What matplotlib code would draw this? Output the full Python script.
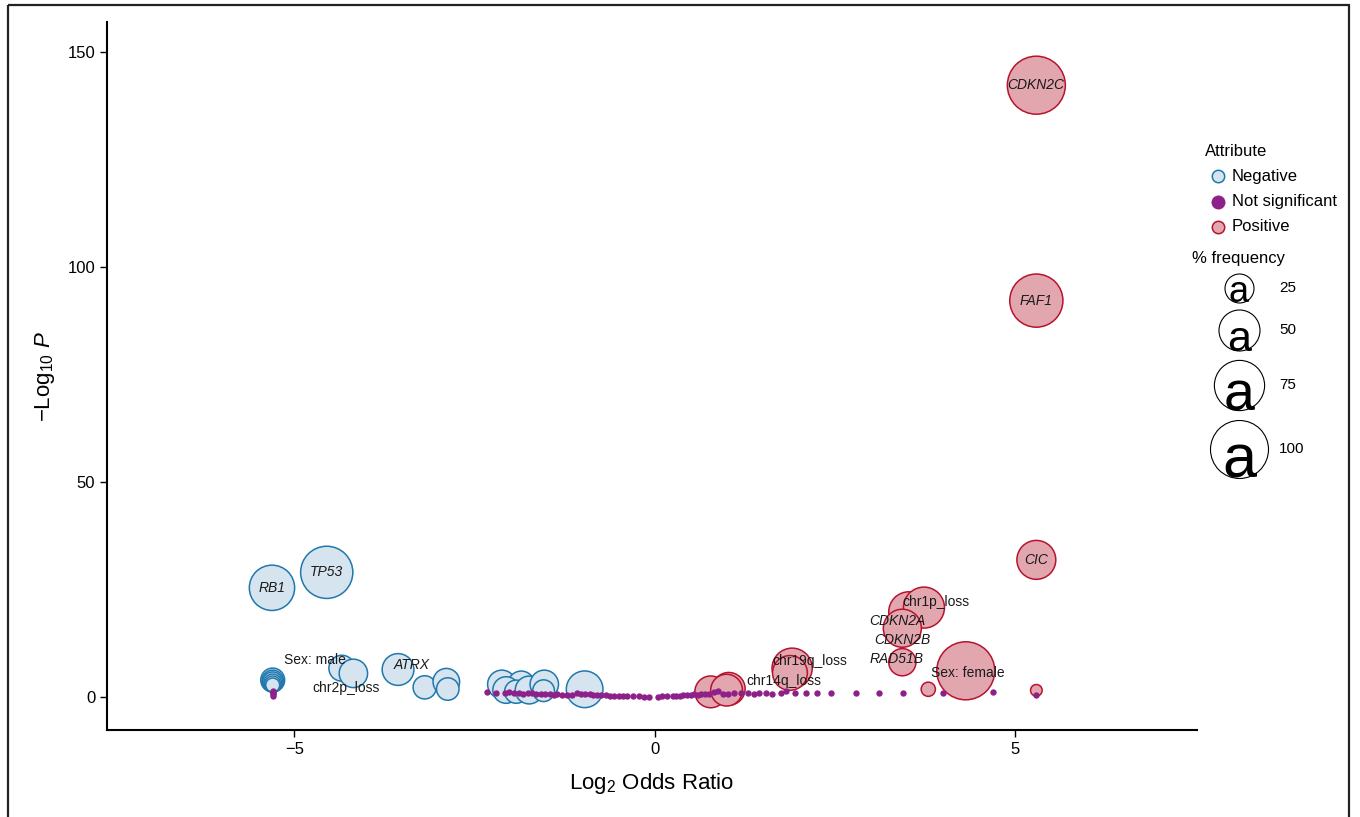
import matplotlib
matplotlib.use('Agg')
import matplotlib.pyplot as plt
from matplotlib.patches import Rectangle
import numpy as np

plt.rcParams['font.family'] = ['Liberation Sans', 'DejaVu Sans']
plt.rcParams['mathtext.fontset'] = 'custom'
plt.rcParams['mathtext.rm'] = 'Liberation Sans'
plt.rcParams['mathtext.it'] = 'Liberation Sans:italic'
plt.rcParams['axes.unicode_minus'] = True

# ---------------- data ----------------
neg_x = [-5.31, -4.55, -5.30, -5.30, -5.30, -5.30, -5.30, -5.30,
         -4.34, -4.18, -3.56, -3.19, -2.89, -2.87,
         -2.12, -1.85, -2.06, -1.92, -1.74, -1.53, -1.54, -0.97]
neg_y = [25.4, 29.0, 3.95, 3.72, 3.49, 3.26, 3.02, 2.79,
         6.7, 5.5, 6.4, 2.25, 3.56, 1.86,
         2.95, 2.95, 1.63, 1.24, 1.63, 2.95, 1.47, 1.8]
neg_freq = [61, 81, 17, 14, 12, 9.6, 7.6, 5.8,
            20, 24, 30, 16, 21, 15,
            24, 21, 21, 16, 23, 24, 14, 40]

pos_x = [5.30, 5.30, 5.30, 3.53, 3.74, 3.44, 3.44, 4.32, 3.80, 5.30,
         1.91, 1.88, 0.78, 1.03, 1.00]
pos_y = [142.3, 92.2, 31.9, 19.8, 20.8, 16.0, 8.1, 6.1, 1.8, 1.56,
         6.7, 5.6, 1.2, 1.9, 1.6]
pos_freq = [100, 84, 45, 48, 50, 43, 22, 100, 6, 4,
            48, 36, 30, 32, 30]

ns_x = [-5.30, -5.30, -5.30, -5.30, -5.30,
        -2.33, -2.20, -2.08, -2.02, -1.95, -1.88, -1.82, -1.75, -1.70, -1.64,
        -1.58, -1.52, -1.45, -1.40, -1.35, -1.28, -1.22, -1.15, -1.08, -1.02,
        -0.96, -0.90, -0.85, -0.80, -0.74, -0.68, -0.62, -0.56, -0.50, -0.44,
        -0.38, -0.30, -0.22, -0.15, -0.08,
        0.05, 0.10, 0.18, 0.25, 0.30, 0.35, 0.40, 0.45, 0.50, 0.55,
        0.60, 0.65, 0.70, 0.75, 0.82, 0.88, 0.95, 1.02, 1.10, 1.20,
        1.30, 1.38, 1.45, 1.55, 1.63, 1.75, 1.82, 1.95, 2.10, 2.25,
        2.45, 2.80, 3.12, 3.45, 4.00, 4.70, 5.30]
ns_y = [0.3, 0.6, 0.9, 1.2, 1.5,
        1.1, 0.9, 0.85, 1.2, 1.0, 0.9, 0.8, 0.85, 0.9, 0.8,
        0.7, 0.75, 0.6, 0.55, 0.7, 0.5, 0.4, 0.45, 0.9, 0.7,
        0.6, 0.65, 0.5, 0.55, 0.45, 0.4, 0.35, 0.3, 0.35, 0.25,
        0.3, 0.15, 0.2, 0.1, 0.05,
        0.1, 0.15, 0.2, 0.3, 0.25, 0.35, 0.4, 0.5, 0.45, 0.6,
        0.5, 0.7, 0.65, 0.8, 1.2, 1.3, 0.7, 0.8, 0.9, 0.85,
        0.9, 0.8, 0.9, 1.0, 0.6, 0.9, 1.3, 1.0, 0.95, 0.9,
        0.9, 0.9, 0.9, 0.9, 1.0, 1.2, 0.4]

label_text = ['RB1', 'TP53', 'Sex: male', 'chr2p_loss', 'ATRX',
              'CDKN2C', 'FAF1', 'CIC', 'chr1p_loss', 'CDKN2A', 'CDKN2B',
              'RAD51B', 'Sex: female', 'chr19q_loss', 'chr14q_loss']
label_italic = [True, True, False, False, True,
                True, True, True, False, True, True,
                True, False, False, False]
label_x = [-5.31, -4.56, -4.71, -4.285, -3.37,
           5.29, 5.30, 5.30, 3.91, 3.375, 3.44,
           3.36, 4.35, 2.15, 1.79]
label_y = [25.3, 29.1, 8.6, 2.16, 7.44,
           142.3, 92.2, 31.9, 22.2, 17.7, 13.3,
           8.84, 5.5, 8.37, 3.72]

size_levels = [25, 50, 75, 100]
x_ticks = [-5, 0, 5]
y_ticks = [0, 50, 100, 150]

# ---------------- style ----------------
NEG_FILL, NEG_EDGE = '#D5E4EE', '#1F78AE'
POS_FILL, POS_EDGE = '#E2A6AF', '#B8132E'
NS_COL = '#8E2189'

def size_of(freq):
    return 17.44 * np.asarray(freq, dtype=float)

W, H = 1360, 817
fig = plt.figure(figsize=(W / 100, H / 100), dpi=100)
ax = fig.add_axes([107 / W, 1 - 730 / H, 1090 / W, 708 / H])

ax.scatter(neg_x, neg_y, s=size_of(neg_freq), facecolor=NEG_FILL,
           edgecolor=NEG_EDGE, linewidths=1.1, zorder=2)
ax.scatter(pos_x, pos_y, s=size_of(pos_freq), facecolor=POS_FILL,
           edgecolor=POS_EDGE, linewidths=1.1, zorder=2)
ax.scatter(ns_x, ns_y, s=21, color=NS_COL, linewidths=0, zorder=3)

for t, it, lx, ly in zip(label_text, label_italic, label_x, label_y):
    ax.text(lx, ly, t, ha='center', va='center', fontsize=10,
            style='italic' if it else 'normal', color='#1a1a1a', zorder=4)

ax.set_xlim(-7.6, 7.53)
ax.set_ylim(-7.67, 157)
ax.set_xticks(x_ticks)
ax.set_yticks(y_ticks)
for s in ['top', 'right']:
    ax.spines[s].set_visible(False)
for s in ['left', 'bottom']:
    ax.spines[s].set_linewidth(1.5)
ax.tick_params(length=5, width=1, labelsize=12, colors='black')
ax.set_xlabel('Log$_2$ Odds Ratio', fontsize=16)
ax.set_ylabel('\u2212Log$_{10}$ $P$', fontsize=16)
ax.xaxis.set_label_coords(0.5, -0.058)
ax.yaxis.set_label_coords(-0.046, 0.5)

# ---------------- overlay: legend + border ----------------
lax = fig.add_axes([0, 0, 1, 1])
lax.set_xlim(0, W)
lax.set_ylim(H, 0)
lax.axis('off')
lax.patch.set_alpha(0)

lax.add_patch(Rectangle((8, 5), 1341, 900, fill=False, lw=1.6,
                        edgecolor='#222222', clip_on=False))

lax.text(1205, 151, 'Attribute', fontsize=12, va='center', ha='left')
leg_items = [('Negative', NEG_FILL, NEG_EDGE, 176),
             ('Not significant', NS_COL, NS_COL, 201.5),
             ('Positive', POS_FILL, POS_EDGE, 226.5)]
for name, fc, ec, yy in leg_items:
    lax.scatter([1218], [yy], s=80, facecolor=fc, edgecolor=ec, linewidths=1.1)
    lax.text(1232, yy, name, fontsize=12, va='center', ha='left')

lax.text(1192, 258, '% frequency', fontsize=12, va='center', ha='left')
leg_cy = [287.5, 330, 385, 448.5]
a_sizes = [26, 31, 40, 44]
for lvl, cy, fs in zip(size_levels, leg_cy, a_sizes):
    d_px = np.sqrt(size_of(lvl)) / 0.72
    lax.scatter([1239], [cy], s=size_of(lvl), facecolor='white',
                edgecolor='black', linewidths=0.8)
    lax.text(1239, cy + d_px / 2, 'a', fontsize=fs, ha='center',
             va='baseline')
    lax.text(1279, cy, str(lvl), fontsize=11, va='center', ha='left')

fig.savefig('out.png', dpi=100)
